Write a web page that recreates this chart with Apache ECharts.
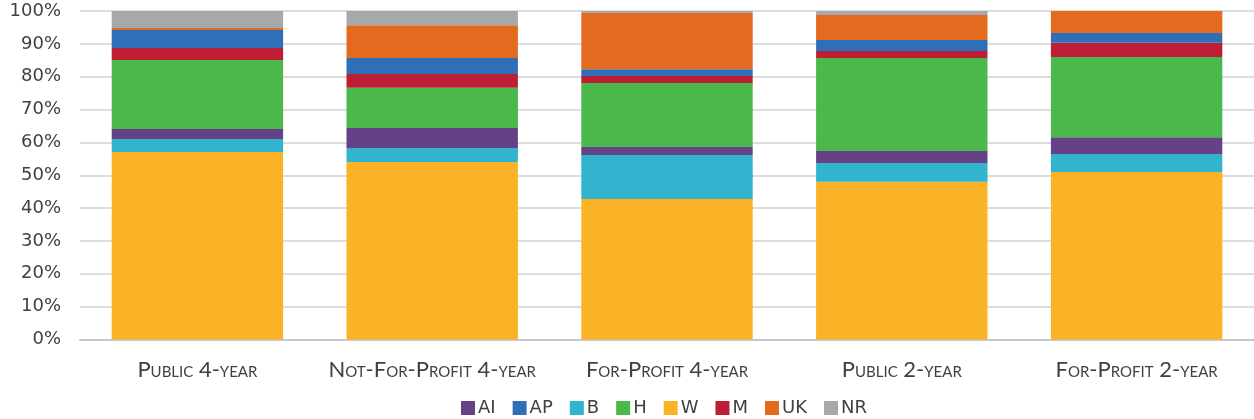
<!DOCTYPE html>
<html>
<head>
<meta charset="utf-8">
<script src="https://cdn.jsdelivr.net/npm/echarts@6/dist/echarts.min.js"></script>
<style>
  html, body { margin: 0; padding: 0; background: #ffffff; }
  #chart { width: 1254px; height: 419px; }
</style>
</head>
<body>
<div id="chart"></div>
<script>
// Institution types along the x axis
const categories = ['Public 4-year', 'Not-For-Profit 4-year', 'For-Profit 4-year', 'Public 2-year', 'For-Profit 2-year'];

// Share of each group (%) per institution type
const W  = [57.1, 54.0, 42.8, 48.0, 51.0];
const B  = [3.9, 4.3, 13.4, 5.7, 5.5];
const AI = [3.1, 6.1, 2.4, 3.7, 5.1];
const H  = [21.0, 12.2, 19.5, 28.3, 24.4];
const M  = [3.6, 4.2, 2.1, 2.1, 4.3];
const AP = [5.5, 4.9, 2.1, 3.4, 3.0];
const UK = [0.6, 10.0, 17.1, 7.6, 6.7];
const NR = [5.2, 4.3, 0.6, 1.2, 0];

// Legend order
const legendOrder = ['AI', 'AP', 'B', 'H', 'W', 'M', 'UK', 'NR'];

// Stack order, bottom to top
const stackSeries = [
  { name: 'W',  data: W,  color: '#fab226' },
  { name: 'B',  data: B,  color: '#32b4cf' },
  { name: 'AI', data: AI, color: '#664188' },
  { name: 'H',  data: H,  color: '#4ab84a' },
  { name: 'M',  data: M,  color: '#be1e35' },
  { name: 'AP', data: AP, color: '#2e6fb7' },
  { name: 'UK', data: UK, color: '#e46a1f' },
  { name: 'NR', data: NR, color: '#a7a8ab' }
];

const chart = echarts.init(document.getElementById('chart'), null, { renderer: 'canvas' });

chart.setOption({
  animation: false,
  backgroundColor: '#ffffff',
  grid: { left: 80, right: 0, top: 11, bottom: 79.5, containLabel: false },
  legend: {
    data: legendOrder,
    left: 461,
    top: 399,
    padding: 0,
    itemWidth: 14,
    itemHeight: 14,
    itemGap: 17,
    icon: 'rect',
    textStyle: { fontFamily: 'DejaVu Sans', fontSize: 18, color: '#404040', padding: [0, 0, 0, -2] }
  },
  xAxis: {
    type: 'category',
    data: categories,
    axisTick: { show: false },
    axisLine: { show: true, lineStyle: { color: '#c8c8c8', width: 2 } },
    axisLabel: {
      interval: 0,
      margin: 19,
      fontFamily: 'Lato',
      fontStyle: 'small-caps',
      fontSize: 22,
      color: '#404040'
    }
  },
  yAxis: {
    type: 'value',
    min: 0,
    max: 100,
    interval: 10,
    axisLine: { show: false },
    axisTick: { show: false },
    axisLabel: {
      margin: 19,
      formatter: '{value}%',
      fontFamily: 'DejaVu Sans',
      fontSize: 18,
      color: '#404040'
    },
    splitLine: { show: true, lineStyle: { color: '#dddddd', width: 2 } }
  },
  series: stackSeries.map(s => ({
    name: s.name,
    type: 'bar',
    stack: 'total',
    barCategoryGap: '27%',
    data: s.data,
    itemStyle: { color: s.color },
    emphasis: { disabled: true }
  }))
});
</script>
</body>
</html>
